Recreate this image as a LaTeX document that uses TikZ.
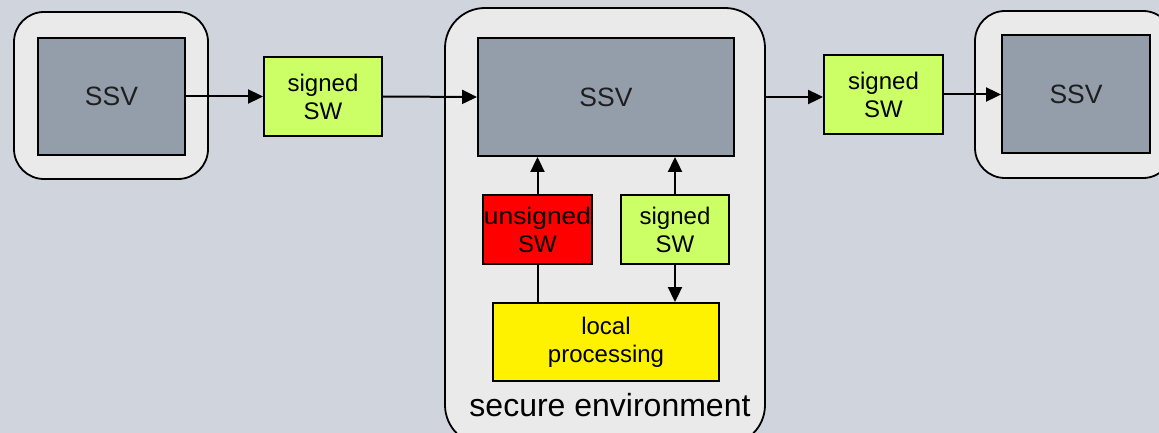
\documentclass[tikz,border=0pt]{standalone}
\usepackage{fontspec}
\setmainfont{Liberation Sans}
\usetikzlibrary{arrows.meta,calc}
\definecolor{bgc}{RGB}{208,212,220}
\definecolor{envc}{RGB}{234,234,234}
\definecolor{ssvc}{RGB}{148,158,170}
\definecolor{swc}{RGB}{204,255,102}
\definecolor{txtc}{RGB}{30,30,30}
\tikzset{
  envbox/.style={draw=black, line width=1.8pt, fill=envc, rounded corners=30pt, inner sep=0pt},
  ssvbox/.style={draw=black, line width=1.9pt, fill=ssvc, inner sep=0pt, text=txtc, font=\fontsize{26.5}{30}\selectfont},
  swbox/.style={draw=black, line width=1.9pt, inner sep=0pt, align=center, text=black, font=\fontsize{24}{28}\selectfont},
  conn/.style={line width=2pt, -{Triangle[length=15pt,width=14pt]}},
  plain/.style={line width=2pt},
}
\begin{document}
\begin{tikzpicture}[x=1pt,y=-1pt]
\fill[bgc] (0,0) rectangle (1159,433);
\useasboundingbox (0,0) rectangle (1159,433);
% left
\node[envbox, minimum width=194pt, minimum height=167pt] (env1) at (111,95.5) {};
\node[ssvbox, minimum width=147pt, minimum height=117pt] (ssv1) at (111.5,96.5) {SSV};
\node[swbox, fill=swc, minimum width=118pt, minimum height=79pt] (sw1) at (323,96.5) {signed\\SW};
% middle
\node[envbox, rounded corners=40pt, minimum width=320pt, minimum height=437pt] (env2) at (605,226.5) {};
\node[ssvbox, minimum width=256pt, minimum height=118pt] (ssv2) at (606,97) {SSV};
\node[swbox, fill=red, minimum width=109pt, minimum height=69pt] (unsig) at (537.5,229.5) {\scalebox{1.1}[1]{unsigned}\\SW};
\node[swbox, fill=swc, minimum width=108pt, minimum height=69pt] (sig2) at (675,229.5) {signed\\SW};
\node[swbox, fill=yellow, minimum width=226pt, minimum height=78pt] (local) at (606,342) {local\\processing};
\node[font=\fontsize{32}{36}\selectfont, text=black, inner sep=0pt] (envlabel) at (610,405) {secure environment};
% right
\node[swbox, fill=swc, minimum width=119pt, minimum height=79pt] (sw3) at (883.5,94.5) {signed\\SW};
\node[envbox, minimum width=198pt, minimum height=167pt] (env3) at (1074,94.5) {};
\node[ssvbox, minimum width=148pt, minimum height=118pt] (ssv3) at (1076,94) {SSV};
% connectors
\draw[conn] (ssv1.east) -- (sw1.west);
\draw[conn] (sw1.east) -- (ssv2.west);
\draw[conn] (env2.east |- ssv2.east) -- (sw3.west |- ssv2.east);
\draw[conn] (sw3.east) -- (ssv3.west |- sw3.east);
\draw[conn] (unsig.north) -- (ssv2.south -| unsig.north);
\draw[plain] (local.north -| unsig.south) -- (unsig.south);
\draw[conn] (sig2.north) -- (ssv2.south -| sig2.north);
\draw[conn] (sig2.south) -- (local.north -| sig2.south);
\end{tikzpicture}
\end{document}
